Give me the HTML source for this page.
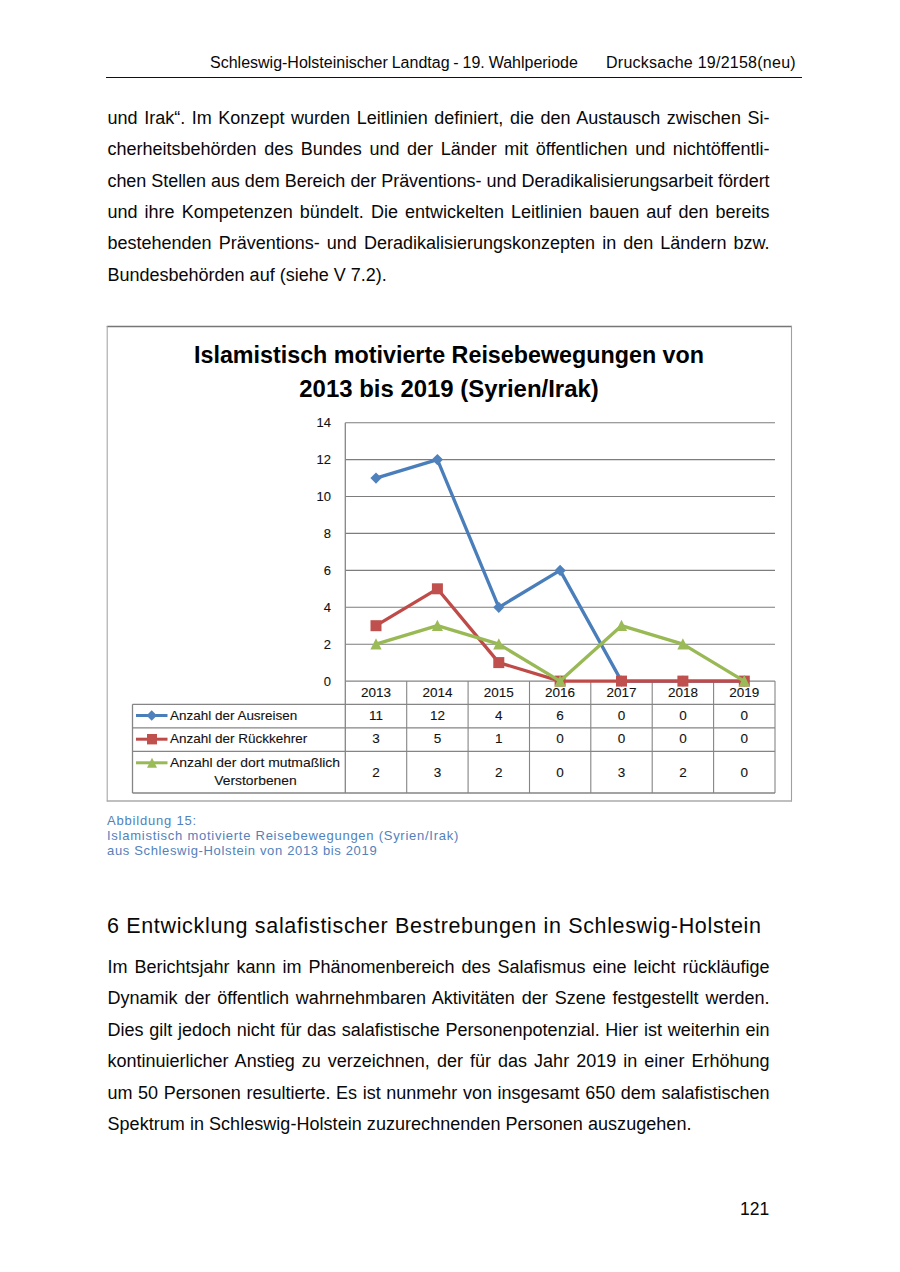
<!DOCTYPE html>
<html><head><meta charset="utf-8">
<style>
html,body{margin:0;padding:0;background:#fff;}
body{width:900px;height:1272px;position:relative;overflow:hidden;font-family:"Liberation Sans",sans-serif;color:#080808;}
.a{position:absolute;white-space:nowrap;}
.hdr{font-size:16px;line-height:20px;}
.rule{position:absolute;left:106px;width:696px;top:76.6px;height:1.8px;background:#111;}
.ln{position:absolute;left:107.5px;width:662px;font-size:18px;line-height:31px;height:31px;text-align:justify;text-align-last:justify;}
.ln.l{text-align:left;text-align-last:left;}
.cap{position:absolute;left:107px;font-size:13px;line-height:15px;color:#5281bb;letter-spacing:0.65px;white-space:nowrap;}
.h2{position:absolute;left:107px;font-size:21.5px;letter-spacing:0.66px;line-height:26px;white-space:nowrap;}
</style></head>
<body>
<div class="a hdr" style="left:210px;top:53px;word-spacing:-0.6px;">Schleswig-Holsteinischer Landtag - 19. Wahlperiode</div>
<div class="a hdr" style="left:606px;top:53px;letter-spacing:0.25px;">Drucksache 19/2158(neu)</div>
<div class="rule"></div>

<div class="ln" style="top:102.7px">und Irak“. Im Konzept wurden Leitlinien definiert, die den Austausch zwischen Si-</div>
<div class="ln" style="top:134.1px">cherheitsbehörden des Bundes und der Länder mit öffentlichen und nichtöffentli-</div>
<div class="ln" style="top:165.5px;letter-spacing:-0.07px">chen Stellen aus dem Bereich der Präventions- und Deradikalisierungsarbeit fördert</div>
<div class="ln" style="top:196.9px">und ihre Kompetenzen bündelt. Die entwickelten Leitlinien bauen auf den bereits</div>
<div class="ln" style="top:228.3px">bestehenden Präventions- und Deradikalisierungskonzepten in den Ländern bzw.</div>
<div class="ln l" style="top:259.7px">Bundesbehörden auf (siehe V 7.2).</div>

<!-- CHART -->
<svg class="a" style="left:0;top:0" width="900" height="1272" viewBox="0 0 900 1272">
<line x1="106.8" y1="326.5" x2="792" y2="326.5" stroke="#767676" stroke-width="1.5"/>
<line x1="107.2" y1="326" x2="107.2" y2="801.5" stroke="#a6a6a6" stroke-width="1.1"/>
<line x1="791.5" y1="326" x2="791.5" y2="801.5" stroke="#a0a0a0" stroke-width="1.1"/>
<line x1="106.8" y1="801" x2="792" y2="801" stroke="#aaaaaa" stroke-width="1.5"/>
<text x="449" y="363.3" text-anchor="middle" font-family="Liberation Sans" font-weight="bold" font-size="23" textLength="510" lengthAdjust="spacingAndGlyphs" fill="#000">Islamistisch motivierte Reisebewegungen von</text>
<text x="449" y="396.9" text-anchor="middle" font-family="Liberation Sans" font-weight="bold" font-size="23" textLength="299.5" lengthAdjust="spacingAndGlyphs" fill="#000">2013 bis 2019 (Syrien/Irak)</text>
<line x1="345.3" y1="422.7" x2="775.0" y2="422.7" stroke="#7d7d7d" stroke-width="1.1"/>
<line x1="345.3" y1="459.6" x2="775.0" y2="459.6" stroke="#7d7d7d" stroke-width="1.1"/>
<line x1="345.3" y1="496.5" x2="775.0" y2="496.5" stroke="#7d7d7d" stroke-width="1.1"/>
<line x1="345.3" y1="533.4" x2="775.0" y2="533.4" stroke="#7d7d7d" stroke-width="1.1"/>
<line x1="345.3" y1="570.4" x2="775.0" y2="570.4" stroke="#7d7d7d" stroke-width="1.1"/>
<line x1="345.3" y1="607.3" x2="775.0" y2="607.3" stroke="#7d7d7d" stroke-width="1.1"/>
<line x1="345.3" y1="644.2" x2="775.0" y2="644.2" stroke="#7d7d7d" stroke-width="1.1"/>
<text x="330.9" y="427.3" text-anchor="end" font-family="Liberation Sans" font-size="13" fill="#111" stroke="#111" stroke-width="0.1">14</text>
<text x="330.9" y="464.2" text-anchor="end" font-family="Liberation Sans" font-size="13" fill="#111" stroke="#111" stroke-width="0.1">12</text>
<text x="330.9" y="501.1" text-anchor="end" font-family="Liberation Sans" font-size="13" fill="#111" stroke="#111" stroke-width="0.1">10</text>
<text x="330.9" y="538.0" text-anchor="end" font-family="Liberation Sans" font-size="13" fill="#111" stroke="#111" stroke-width="0.1">8</text>
<text x="330.9" y="575.0" text-anchor="end" font-family="Liberation Sans" font-size="13" fill="#111" stroke="#111" stroke-width="0.1">6</text>
<text x="330.9" y="611.9" text-anchor="end" font-family="Liberation Sans" font-size="13" fill="#111" stroke="#111" stroke-width="0.1">4</text>
<text x="330.9" y="648.8" text-anchor="end" font-family="Liberation Sans" font-size="13" fill="#111" stroke="#111" stroke-width="0.1">2</text>
<text x="330.9" y="685.7" text-anchor="end" font-family="Liberation Sans" font-size="13" fill="#111" stroke="#111" stroke-width="0.1">0</text>
<line x1="345.3" y1="422.7" x2="345.3" y2="793" stroke="#858585" stroke-width="1.3"/>
<line x1="406.7" y1="681.1" x2="406.7" y2="793" stroke="#858585" stroke-width="1.1"/>
<line x1="468.1" y1="681.1" x2="468.1" y2="793" stroke="#858585" stroke-width="1.1"/>
<line x1="529.5" y1="681.1" x2="529.5" y2="793" stroke="#858585" stroke-width="1.1"/>
<line x1="590.8" y1="681.1" x2="590.8" y2="793" stroke="#858585" stroke-width="1.1"/>
<line x1="652.2" y1="681.1" x2="652.2" y2="793" stroke="#858585" stroke-width="1.1"/>
<line x1="713.6" y1="681.1" x2="713.6" y2="793" stroke="#858585" stroke-width="1.1"/>
<line x1="775.0" y1="681.1" x2="775.0" y2="793" stroke="#858585" stroke-width="1.1"/>
<line x1="345.3" y1="681.1" x2="775.0" y2="681.1" stroke="#858585" stroke-width="1.2"/>
<line x1="132.5" y1="704.3" x2="775.0" y2="704.3" stroke="#858585" stroke-width="1.3"/>
<line x1="132.5" y1="727.9" x2="775.0" y2="727.9" stroke="#858585" stroke-width="1.3"/>
<line x1="132.5" y1="751.3" x2="775.0" y2="751.3" stroke="#858585" stroke-width="1.3"/>
<line x1="132.5" y1="793" x2="775.0" y2="793" stroke="#858585" stroke-width="1.4"/>
<line x1="132.5" y1="704.3" x2="132.5" y2="793" stroke="#858585" stroke-width="1.3"/>
<text x="376.0" y="696.8" text-anchor="middle" font-family="Liberation Sans" font-size="13.5" fill="#111" stroke="#111" stroke-width="0.1">2013</text>
<text x="376.0" y="719.9" text-anchor="middle" font-family="Liberation Sans" font-size="13.5" fill="#111" stroke="#111" stroke-width="0.1">11</text>
<text x="376.0" y="743.4" text-anchor="middle" font-family="Liberation Sans" font-size="13.5" fill="#111" stroke="#111" stroke-width="0.1">3</text>
<text x="376.0" y="776.6" text-anchor="middle" font-family="Liberation Sans" font-size="13.5" fill="#111" stroke="#111" stroke-width="0.1">2</text>
<text x="437.4" y="696.8" text-anchor="middle" font-family="Liberation Sans" font-size="13.5" fill="#111" stroke="#111" stroke-width="0.1">2014</text>
<text x="437.4" y="719.9" text-anchor="middle" font-family="Liberation Sans" font-size="13.5" fill="#111" stroke="#111" stroke-width="0.1">12</text>
<text x="437.4" y="743.4" text-anchor="middle" font-family="Liberation Sans" font-size="13.5" fill="#111" stroke="#111" stroke-width="0.1">5</text>
<text x="437.4" y="776.6" text-anchor="middle" font-family="Liberation Sans" font-size="13.5" fill="#111" stroke="#111" stroke-width="0.1">3</text>
<text x="498.8" y="696.8" text-anchor="middle" font-family="Liberation Sans" font-size="13.5" fill="#111" stroke="#111" stroke-width="0.1">2015</text>
<text x="498.8" y="719.9" text-anchor="middle" font-family="Liberation Sans" font-size="13.5" fill="#111" stroke="#111" stroke-width="0.1">4</text>
<text x="498.8" y="743.4" text-anchor="middle" font-family="Liberation Sans" font-size="13.5" fill="#111" stroke="#111" stroke-width="0.1">1</text>
<text x="498.8" y="776.6" text-anchor="middle" font-family="Liberation Sans" font-size="13.5" fill="#111" stroke="#111" stroke-width="0.1">2</text>
<text x="560.1" y="696.8" text-anchor="middle" font-family="Liberation Sans" font-size="13.5" fill="#111" stroke="#111" stroke-width="0.1">2016</text>
<text x="560.1" y="719.9" text-anchor="middle" font-family="Liberation Sans" font-size="13.5" fill="#111" stroke="#111" stroke-width="0.1">6</text>
<text x="560.1" y="743.4" text-anchor="middle" font-family="Liberation Sans" font-size="13.5" fill="#111" stroke="#111" stroke-width="0.1">0</text>
<text x="560.1" y="776.6" text-anchor="middle" font-family="Liberation Sans" font-size="13.5" fill="#111" stroke="#111" stroke-width="0.1">0</text>
<text x="621.5" y="696.8" text-anchor="middle" font-family="Liberation Sans" font-size="13.5" fill="#111" stroke="#111" stroke-width="0.1">2017</text>
<text x="621.5" y="719.9" text-anchor="middle" font-family="Liberation Sans" font-size="13.5" fill="#111" stroke="#111" stroke-width="0.1">0</text>
<text x="621.5" y="743.4" text-anchor="middle" font-family="Liberation Sans" font-size="13.5" fill="#111" stroke="#111" stroke-width="0.1">0</text>
<text x="621.5" y="776.6" text-anchor="middle" font-family="Liberation Sans" font-size="13.5" fill="#111" stroke="#111" stroke-width="0.1">3</text>
<text x="682.9" y="696.8" text-anchor="middle" font-family="Liberation Sans" font-size="13.5" fill="#111" stroke="#111" stroke-width="0.1">2018</text>
<text x="682.9" y="719.9" text-anchor="middle" font-family="Liberation Sans" font-size="13.5" fill="#111" stroke="#111" stroke-width="0.1">0</text>
<text x="682.9" y="743.4" text-anchor="middle" font-family="Liberation Sans" font-size="13.5" fill="#111" stroke="#111" stroke-width="0.1">0</text>
<text x="682.9" y="776.6" text-anchor="middle" font-family="Liberation Sans" font-size="13.5" fill="#111" stroke="#111" stroke-width="0.1">2</text>
<text x="744.3" y="696.8" text-anchor="middle" font-family="Liberation Sans" font-size="13.5" fill="#111" stroke="#111" stroke-width="0.1">2019</text>
<text x="744.3" y="719.9" text-anchor="middle" font-family="Liberation Sans" font-size="13.5" fill="#111" stroke="#111" stroke-width="0.1">0</text>
<text x="744.3" y="743.4" text-anchor="middle" font-family="Liberation Sans" font-size="13.5" fill="#111" stroke="#111" stroke-width="0.1">0</text>
<text x="744.3" y="776.6" text-anchor="middle" font-family="Liberation Sans" font-size="13.5" fill="#111" stroke="#111" stroke-width="0.1">0</text>
<text x="170" y="720" font-family="Liberation Sans" font-size="13.3" textLength="127.3" lengthAdjust="spacingAndGlyphs" fill="#111" stroke="#111" stroke-width="0.1">Anzahl der Ausreisen</text>
<text x="170" y="743.3" font-family="Liberation Sans" font-size="13.3" textLength="137.3" lengthAdjust="spacingAndGlyphs" fill="#111" stroke="#111" stroke-width="0.1">Anzahl der Rückkehrer</text>
<text x="170" y="766.8" font-family="Liberation Sans" font-size="13.3" textLength="170" lengthAdjust="spacingAndGlyphs" fill="#111" stroke="#111" stroke-width="0.1">Anzahl der dort mutmaßlich</text>
<text x="214.3" y="785" font-family="Liberation Sans" font-size="13.3" textLength="82.4" lengthAdjust="spacingAndGlyphs" fill="#111" stroke="#111" stroke-width="0.1">Verstorbenen</text>
<line x1="136" y1="715.5" x2="167.5" y2="715.5" stroke="#4a7ebb" stroke-width="3"/>
<path d="M151.7 710.3L156.9 715.5L151.7 720.7L146.5 715.5Z" fill="#4f81bd"/>
<line x1="136" y1="739.2" x2="167.5" y2="739.2" stroke="#be4b48" stroke-width="3"/>
<rect x="147" y="734.0" width="10" height="10.4" fill="#c0504d"/>
<line x1="136" y1="762.8" x2="167.5" y2="762.8" stroke="#98b954" stroke-width="3"/>
<path d="M152 757.8L157 767.8L147 767.8Z" fill="#9bbb59"/>
<polyline points="376.0,478.1 437.4,459.6 498.8,607.3 560.1,570.4 621.5,681.1 682.9,681.1 744.3,681.1" fill="none" stroke="#4a7ebb" stroke-width="3.3" stroke-linejoin="round" stroke-linecap="round"/>
<path d="M376.0 472.5L381.6 478.1L376.0 483.7L370.4 478.1Z" fill="#4f81bd"/>
<path d="M437.4 454.0L443.0 459.6L437.4 465.2L431.8 459.6Z" fill="#4f81bd"/>
<path d="M498.8 601.7L504.4 607.3L498.8 612.9L493.2 607.3Z" fill="#4f81bd"/>
<path d="M560.1 564.8L565.8 570.4L560.1 576.0L554.5 570.4Z" fill="#4f81bd"/>
<path d="M621.5 675.5L627.1 681.1L621.5 686.7L615.9 681.1Z" fill="#4f81bd"/>
<path d="M682.9 675.5L688.5 681.1L682.9 686.7L677.3 681.1Z" fill="#4f81bd"/>
<path d="M744.3 675.5L749.9 681.1L744.3 686.7L738.7 681.1Z" fill="#4f81bd"/>
<polyline points="376.0,625.7 437.4,588.8 498.8,662.6 560.1,681.1 621.5,681.1 682.9,681.1 744.3,681.1" fill="none" stroke="#be4b48" stroke-width="3.3" stroke-linejoin="round" stroke-linecap="round"/>
<rect x="370.5" y="620.2" width="11.0" height="11.0" fill="#c0504d"/>
<rect x="431.9" y="583.3" width="11.0" height="11.0" fill="#c0504d"/>
<rect x="493.3" y="657.1" width="11.0" height="11.0" fill="#c0504d"/>
<rect x="554.6" y="675.6" width="11.0" height="11.0" fill="#c0504d"/>
<rect x="616.0" y="675.6" width="11.0" height="11.0" fill="#c0504d"/>
<rect x="677.4" y="675.6" width="11.0" height="11.0" fill="#c0504d"/>
<rect x="738.8" y="675.6" width="11.0" height="11.0" fill="#c0504d"/>
<polyline points="376.0,644.2 437.4,625.7 498.8,644.2 560.1,681.1 621.5,625.7 682.9,644.2 744.3,681.1" fill="none" stroke="#98b954" stroke-width="3.3" stroke-linejoin="round" stroke-linecap="round"/>
<path d="M376.0 638.2L381.6 649.6L370.4 649.6Z" fill="#9bbb59"/>
<path d="M437.4 619.7L443.0 631.1L431.8 631.1Z" fill="#9bbb59"/>
<path d="M498.8 638.2L504.4 649.6L493.2 649.6Z" fill="#9bbb59"/>
<path d="M560.1 675.1L565.8 686.5L554.5 686.5Z" fill="#9bbb59"/>
<path d="M621.5 619.7L627.1 631.1L615.9 631.1Z" fill="#9bbb59"/>
<path d="M682.9 638.2L688.5 649.6L677.3 649.6Z" fill="#9bbb59"/>
<path d="M744.3 675.1L749.9 686.5L738.7 686.5Z" fill="#9bbb59"/>

</svg>

<div class="cap" style="top:813px;letter-spacing:0.8px">Abbildung 15:</div>
<div class="cap" style="top:828px;letter-spacing:0.74px">Islamistisch motivierte Reisebewegungen (Syrien/Irak)</div>
<div class="cap" style="top:843px">aus Schleswig-Holstein von 2013 bis 2019</div>

<div class="h2" style="top:913px">6 Entwicklung salafistischer Bestrebungen in Schleswig-Holstein</div>

<div class="ln" style="top:951.9px">Im Berichtsjahr kann im Phänomenbereich des Salafismus eine leicht rückläufige</div>
<div class="ln" style="top:983.3px">Dynamik der öffentlich wahrnehmbaren Aktivitäten der Szene festgestellt werden.</div>
<div class="ln" style="top:1014.7px">Dies gilt jedoch nicht für das salafistische Personenpotenzial. Hier ist weiterhin ein</div>
<div class="ln" style="top:1046.1px">kontinuierlicher Anstieg zu verzeichnen, der für das Jahr 2019 in einer Erhöhung</div>
<div class="ln" style="top:1077.5px">um 50 Personen resultierte. Es ist nunmehr von insgesamt 650 dem salafistischen</div>
<div class="ln l" style="top:1108.9px;letter-spacing:0.04px">Spektrum in Schleswig-Holstein zuzurechnenden Personen auszugehen.</div>

<div class="a" style="left:740px;top:1198px;font-size:17.5px;line-height:22px;">121</div>
</body></html>
